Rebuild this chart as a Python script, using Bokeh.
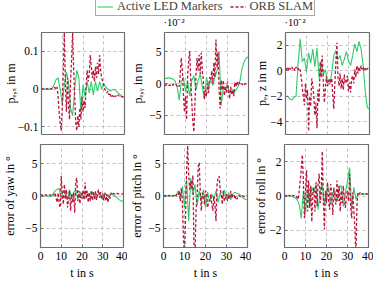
import numpy as np
from bokeh.plotting import figure
from bokeh.models import (Range1d, Label, Legend, LegendItem, FixedTicker,
                          CustomJSTickFormatter, Grid)
from bokeh.layouts import column, row
from bokeh.embed import file_html
from bokeh.resources import INLINE

FONT = "Liberation Serif"
GREEN = "#2fcc6a"
RED = "#b8163c"
FRAME = "#6e6e6e"
GRID = "#b8b8b8"

# ---------------- data ----------------
x_ticks = [0, 10, 20, 30, 40]
legend_labels = ["Active LED Markers", "ORB SLAM"]

# position error x in m
px_active = [0, 0, 0, 0, 0, 0.002, 0.01, 0.025, 0.03, 0.0, -0.04, 0.01, 0.045, 0.02, -0.05,
             -0.07, 0.0, 0.05, 0.03, -0.06, 0.01, -0.02, 0.02, -0.01, 0.02, -0.015, 0.02,
             -0.005, 0.02, 0.0, 0.015, 0.005, 0.0, -0.005, -0.002, 0.0, -0.005, -0.01,
             -0.015, -0.02, -0.02]
px_orb = [0.0, 0.002, 0.0, 0.001, 0.0, 0.002, 0.0, 0.001, 0.0, 0.002,
          0.0, 0.003, 0.002, 0.005,
          0.0, 0.006, -0.02, -0.06, -0.09, -0.11,
          -0.05, 0.05, 0.15, 0.02, -0.06, 0.03,
          -0.04, -0.08, 0.02, 0.08, 0.15, 0.05,
          -0.02, -0.09, -0.11, -0.07, -0.10, -0.05,
          -0.08, -0.02, -0.06, -0.03, -0.05, 0.01,
          0.05, 0.02, 0.04, 0.09, 0.06, 0.03,
          0.05, 0.02, 0.06, 0.03, 0.07, 0.04,
          0.09, 0.05, 0.03, 0.02, 0.01, 0.0,
          -0.005, -0.01, -0.005, -0.015, -0.01, -0.02,
          -0.015, -0.02, -0.015, -0.02, -0.018, -0.02,
          -0.015, -0.02, -0.018, -0.02, -0.02, -0.022,
          -0.02]

# position error y in 1e-2 m
py_active = [0.8, 0.8, 0.9, 0.8, 0.7, 0.4, -0.5, -2.6, 0.2, 1.0, -1.3, 0.3, -2.0, 0.5, 1.2,
             -1.0, 0.5, 1.5, -0.5, -2.5, 1.0, -0.5, 0.5, -0.3, 1.0, 2.0, 4.9, -3.5, -0.5,
             -1.0, -0.3, -1.5, -0.8, -1.6, -1.0, -0.5, 0.5, 2.5, 3.5, 4.0, 4.2]
py_orb = [-0.2, -0.3, -0.2, -0.1, -0.3, -0.2, -0.4, -0.2, -0.3, -0.1, -0.3, -0.2, -0.4, -0.2,
          -0.5, 1.5, 4.0, 2.0, -1.5, -4.5,
          -2.0, -5.7, 1.0, 3.5, 5.1, 0.5,
          -3.0, -6.0, -7.6, -3.0, 1.5, 4.0,
          2.0, 4.5, 1.5, 4.8, 2.0, 0.5,
          -2.4, -1.0, -2.0, 0.0, -1.5, 1.0,
          0.5, 2.0, 0.0, 3.3, 1.0, 6.9,
          2.5, 5.0, -1.0, -3.9, 0.5, -1.0,
          0.5, -1.9, -0.5, -1.5, 0.3, -1.2,
          -2.4, -0.5, -1.8, -1.0, -2.0, 0.2,
          -0.5, 0.3, -0.2, 0.2, -0.1, 0.1,
          -0.2, 0.0, -0.2, 0.0, -0.1, -0.2,
          -0.1]

# position error z in 1e-2 m
pz_active = [-2.0, -2.0, -2.2, -2.3, -2.1, -2.0, 0.5, 2.5, 0.7, 1.0, -0.1, 1.4, 0.6, 1.7,
             0.3, 1.8, -0.6, 0.8, -0.3, 0.1, -0.9, -1.1, -0.2, 1.2, 1.6, 0.9, 1.2, 0.4,
             0.9, 1.5, 0.8, 0.4, 1.2, 2.1, 1.5, 2.3, 1.7, 0.4, -1.7, -2.9, -3.0]
pz_orb = [0.2, 0.1, 0.3, 0.0, 0.2, 0.1, 0.3, 0.1, 0.2, 0.0, 0.3, 0.1, 0.2, 0.0, 0.1, -0.5,
          -1.4, -2.0, -2.7, -1.0, -2.2, -1.5,
          -4.75, -2.0, -2.8, -0.6, -1.2, -2.0,
          -3.5, -2.5, -4.5, -1.5, -2.5, 0.7,
          -0.5, 1.2, -0.8, -2.5, -1.4, -0.4,
          -1.2, -0.8, -0.6, -1.0, -0.6, -1.9,
          -3.0, -1.0, 0.7, 2.2, -0.5, -1.2,
          -0.2, -1.4, -0.6, -1.5, -0.3, -1.0,
          -0.8, -0.4, -1.6, -0.9, -1.7, -0.6,
          -0.4, -1.0, 0.1, -0.5, 0.4, -0.2,
          0.3, 0.0, 0.4, 0.1, 0.3, 0.0,
          0.2, 0.0, 0.2, 0.1, 0.2]

# orientation errors in degrees
yaw_active = [0, 0, 0, 0, 0, -0.1, 0.3, 0.8, 1.0, 1.2, -0.5, 0.8, 0.3, -0.6, 1.0,
              -0.3, 0.6, 0.9, -0.5, 0.7, 0.2, -0.4, 0.8, 0.0, -0.3, 0.6, 0.2, -0.5, 0.4,
              0.0, -0.6, 0.5, 0.1, -0.3, 0.4, 0.2, 0.0, -0.3, -0.6, -0.8, -0.8]
yaw_orb = [0.1, 0.2, 0.1, 0.2, 0.1, 0.2, 0.1, 0.2, 0.1, 0.2, 0.1, 0.2, 0.3, 0.1, 0.5, -0.3,
           -1.0, 0.5, -1.2, -1.8, 3.1, 0.2,
           -1.3, 1.8, -0.5, 1.0, -1.8, -0.6,
           0.8, -2.3, 0.3, -1.0, 0.5, -2.6,
           2.3, 2.8, -0.8, 0.8, -1.2, 0.5,
           -0.4, 0.9, -0.6, 2.1, -0.5, 0.8,
           -1.0, 0.6, -0.8, 0.9, -0.7, 0.6,
           -0.5, 0.8, -0.6, 0.5, 1.0, -0.3,
           0.6, -0.5, 0.4, -0.7, 0.5, -0.8,
           0.3, -1.0, 0.2, -0.4, 0.5, 0.2,
           0.4, 0.3, 0.4, 0.3, 0.4, 0.3,
           0.35, 0.3, 0.3, 0.35, 0.3]

pitch_active = [0, 0, 0, 0, 0, 0, 0.1, 0.8, -0.2, 1.5, -1.8, 2.6, -3.9, 2.8, 0.2, 1.8,
                -1.5, 0.8, -0.8, 1.0, -1.8, 0.6, -0.9, 0.3, -0.5, 0.8, -1.0, 0.5, -0.3,
                0.9, -0.4, 0.5, -0.6, 0.3, 0.6, 0.4, 0.3, 0.0, -0.4, -0.5, -0.6]
pitch_orb = [0.1, 0.0, 0.1, 0.0, 0.1, 0.0, 0.1, 0.0, 0.1, 0.0, 0.1, 0.3, 0.0, 0.4,
             0.2, 0.8, -0.8, 1.2, -1.0, -6.5,
             -9.5, -3.0, 4.0, 7.8, 3.4, 1.0,
             2.3, 1.0, 3.2, -7.5, -9.5, -2.0,
             -0.3, 4.4, 5.2, 0.8, -2.3, 0.5,
             0.2, -1.3, 0.8, 0.5, -1.8, -0.8,
             -0.8, 0.3, -1.2, -2.3, 0.0, -1.5,
             -3.9, 1.8, 2.8, 3.1, 1.0, 0.3,
             -1.3, 0.8, -0.8, -0.3, 0.3, -0.8,
             0.2, -0.5, 0.8, -0.3, 0.2, 0.3,
             -0.5, 0.0, -0.5, 0.0, 0.1, -0.1,
             0.0, 0.1, 0.0, -0.1, 0.0, 0.1,
             0.0]

roll_active = [0, 0, 0, 0, -0.05, -0.1, -0.2, -0.5, -1.3, 0.3, -1.0, 0.4, -0.6, 0.5, 0.2,
               0.7, -0.8, 0.3, 0.7, -0.5, 0.3, 0.5, -0.5, 0.2, 0.3, -0.3, 0.5, 0.6, -0.6,
               0.2, 0.9, 1.65, -0.7, 0.5, -0.2, 0.1, 0.1, 0.1, 0.1, 0.1, 0.1]
roll_orb = [0.05, 0.0, 0.05, 0.0, 0.05, 0.0, 0.05, 0.0, 0.05, 0.0, 0.05, 0.0, -0.1,
            -0.2, 0.3, 0.9, 1.65, 2.4, 0.8,
            -1.3, 0.3, 1.5, -0.9, 0.9, -0.7,
            0.6, -1.5, 0.2, 0.5, -0.9, 0.8,
            -0.6, 0.7, 1.3, -0.4, 0.2, 2.6,
            -0.2, -1.95, 0.3, -0.4, 0.8, -0.3,
            -0.8, 0.7, 0.2, -1.1, 0.5, -0.2,
            -0.5, 0.9, -0.3, 0.6, -0.9, 0.3,
            -0.4, 0.6, -0.2, -0.7, 0.1, 0.3,
            -0.3, 1.3, -0.6, -1.3, 0.2, -0.8,
            -1.85, -3.5, -0.5, 0.2, 0.1, 0.2,
            0.1, 0.15, 0.1, 0.15, 0.1, 0.15,
            0.1, 0.15]

# --------------- layout (page has no margin: canvas px == page px) ----------------
STRIP_H = 30
COLS = [dict(left=40, fw=83, right=4), dict(left=36, fw=84, right=4), dict(left=33, fw=84, right=5)]
TOTAL_W = sum(c["left"] + c["fw"] + c["right"] for c in COLS)


def make_panel(active, orb, yr, yticks, decimals, ylabel, label_standoff, col, top_row):
    c = COLS[col]
    fh = 102 if top_row else 103
    p = figure(frame_width=c["fw"], frame_height=fh,
               min_border_left=c["left"], min_border_right=c["right"],
               min_border_top=2 if top_row else 5,
               min_border_bottom=5 if top_row else 42,
               x_range=Range1d(0, 40), y_range=Range1d(*yr),
               x_axis_type=None if top_row else "linear",
               toolbar_location=None, tools="", output_backend="svg")
    p.background_fill_color = "white"
    p.border_fill_color = "white"
    p.outline_line_color = FRAME
    p.outline_line_width = 1.2

    ta = np.linspace(0, 40, len(active))
    to = np.linspace(0, 40, len(orb))
    p.line(ta, active, line_color=GREEN, line_width=1.1)
    p.line(to, orb, line_color=RED, line_width=1.3, line_dash="3 2")

    ya = p.yaxis[0]
    ya.ticker = FixedTicker(ticks=yticks)
    ya.formatter = CustomJSTickFormatter(
        code="var s = (tick === 0) ? '0' : tick.toFixed(%d); return s.replace('-', '\u2212');" % decimals)
    ya.axis_line_color = None
    ya.major_tick_in = 3
    ya.major_tick_out = 0
    ya.major_tick_line_color = FRAME
    ya.minor_tick_line_color = None
    ya.major_label_standoff = 3
    ya.major_label_text_font = FONT
    ya.major_label_text_font_size = "11.5px"
    ya.major_label_text_color = "black"
    ya.axis_label = ylabel
    ya.axis_label_text_font = FONT
    ya.axis_label_text_font_size = "12px"
    ya.axis_label_text_font_style = "normal"
    ya.axis_label_text_color = "black"
    ya.axis_label_standoff = label_standoff
    p.ygrid.ticker = FixedTicker(ticks=yticks)
    p.ygrid.grid_line_color = GRID
    p.ygrid.grid_line_dash = "3 3"
    p.ygrid.grid_line_width = 0.9

    if top_row:
        g = Grid(dimension=0, ticker=FixedTicker(ticks=x_ticks),
                 grid_line_color=GRID, grid_line_dash="3 3", grid_line_width=0.9)
        p.add_layout(g)
    else:
        xa = p.xaxis[0]
        xa.ticker = FixedTicker(ticks=x_ticks)
        xa.axis_line_color = None
        xa.major_tick_in = 3
        xa.major_tick_out = 0
        xa.major_tick_line_color = FRAME
        xa.minor_tick_line_color = None
        xa.major_label_standoff = 4
        xa.major_label_text_font = FONT
        xa.major_label_text_font_size = "11.5px"
        xa.major_label_text_color = "black"
        xa.axis_label = "t in s"
        xa.axis_label_text_font = FONT
        xa.axis_label_text_font_size = "12px"
        xa.axis_label_text_font_style = "normal"
        xa.axis_label_text_color = "black"
        xa.axis_label_standoff = 3
        p.xgrid.ticker = FixedTicker(ticks=x_ticks)
        p.xgrid.grid_line_color = GRID
        p.xgrid.grid_line_dash = "3 3"
        p.xgrid.grid_line_width = 0.9
    return p


f1 = make_panel(px_active, px_orb, (-0.12, 0.15), [-0.1, 0, 0.1], 1,
                "p\u2091,\u2093 in m", -3, 0, True)
f2 = make_panel(py_active, py_orb, (-8, 8), [-5, 0, 5], 0,
                "p\u2091,\u1d67 in m", 1, 1, True)
f3 = make_panel(pz_active, pz_orb, (-5, 3), [-4, -2, 0, 2], 0,
                "p\u2091, z in m", -2, 2, True)
f4 = make_panel(yaw_active, yaw_orb, (-8, 8), [-5, 0, 5], 0,
                "error of yaw in \u00b0", 5, 0, False)
f5 = make_panel(pitch_active, pitch_orb, (-8, 8), [-5, 0, 5], 0,
                "error of pitch in \u00b0", 1, 1, False)
f6 = make_panel(roll_active, roll_orb, (-3, 3), [-2, 0, 2], 0,
                "error of roll in \u00b0", -2, 2, False)

# top strip: legend and the 10^-2 multipliers (data units == pixels, y from bottom)
strip = figure(width=TOTAL_W, height=STRIP_H, x_range=Range1d(0, TOTAL_W),
               y_range=Range1d(0, STRIP_H), x_axis_type=None, y_axis_type=None,
               toolbar_location=None, tools="", output_backend="svg", min_border=0)
strip.outline_line_color = None
lg = strip.line([-100, -90], [-100, -90], line_color=GREEN, line_width=1.1)
lr = strip.line([-100, -90], [-100, -90], line_color=RED, line_width=1.3, line_dash="3 2")
legend = Legend(items=[LegendItem(label=legend_labels[0], renderers=[lg]),
                       LegendItem(label=legend_labels[1], renderers=[lr])],
                orientation="horizontal", location=(95, 14),
                label_text_font=FONT, label_text_font_size="12.5px",
                label_height=11, glyph_height=11, glyph_width=16,
                label_standoff=4, spacing=7, padding=1, margin=0,
                border_line_color="#555555", border_line_width=1,
                background_fill_alpha=1.0)
strip.add_layout(legend)
for xc in (163, 284):
    strip.add_layout(Label(x=xc, y=3, text="\u00b710\u207b\u00b2",
                           text_align="left", text_baseline="bottom",
                           text_font=FONT, text_font_size="10.5px", text_color="black"))

layout = column(strip,
                row(f1, f2, f3, spacing=0),
                row(f4, f5, f6, spacing=0), spacing=0)

open("out.html", "w").write(file_html(layout, INLINE))
